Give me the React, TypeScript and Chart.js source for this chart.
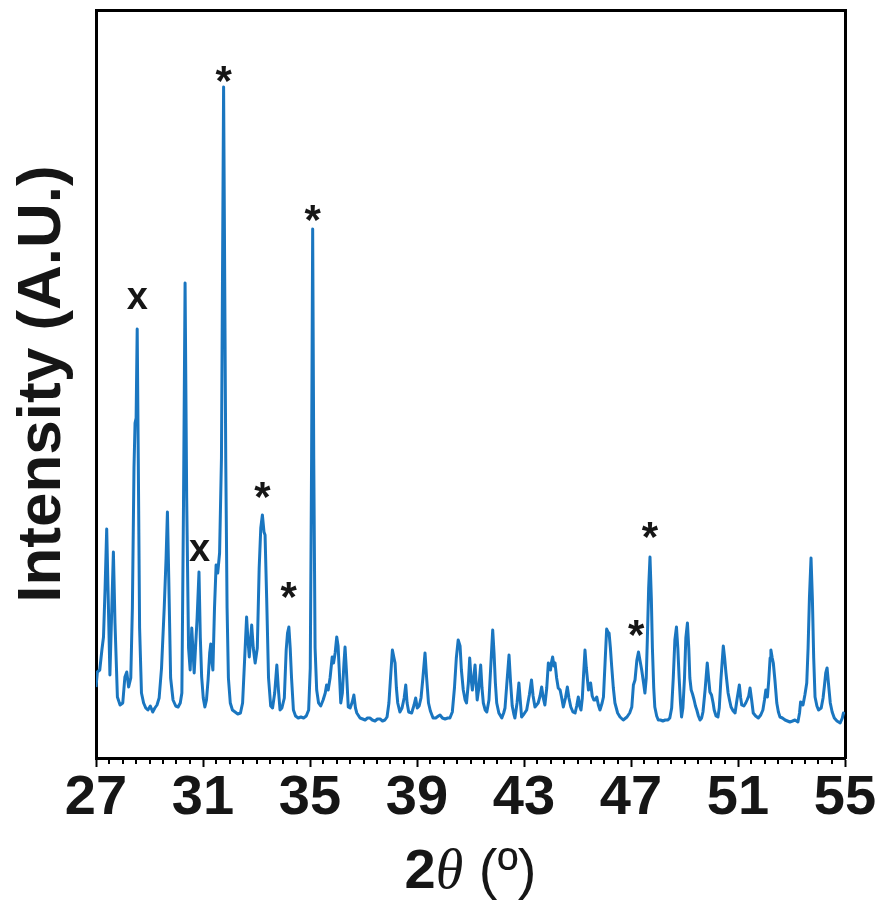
import React, { useEffect, useRef } from 'react';
import { Chart, registerables } from 'chart.js';

Chart.register(...registerables);

const twoTheta = [
  27.00, 27.05, 27.14, 27.22, 27.28, 27.34, 27.40, 27.45, 27.52, 27.58, 27.65, 27.71, 27.80, 27.90, 28.00, 28.08,
  28.15, 28.22, 28.30, 28.36, 28.42, 28.46, 28.50, 28.54, 28.58, 28.63, 28.70, 28.78, 28.86, 28.94, 29.03, 29.12,
  29.20, 29.28, 29.36, 29.45, 29.55, 29.62, 29.67, 29.72, 29.79, 29.88, 29.98, 30.07, 30.15, 30.21, 30.27, 30.33,
  30.39, 30.46, 30.52, 30.58, 30.62, 30.67, 30.72, 30.78, 30.85, 30.90, 30.95, 31.01, 31.07, 31.13, 31.19, 31.25,
  31.29, 31.34, 31.37, 31.43, 31.49, 31.55, 31.62, 31.69, 31.77, 31.85, 31.90, 31.95, 32.02, 32.10, 32.20, 32.30,
  32.40, 32.48, 32.55, 32.63, 32.68, 32.73, 32.82, 32.88, 32.95, 33.03, 33.10, 33.16, 33.22, 33.28, 33.32, 33.38,
  33.45, 33.53, 33.60, 33.68, 33.76, 33.82, 33.88, 33.95, 34.04, 34.11, 34.16, 34.21, 34.26, 34.31, 34.38, 34.46,
  34.56, 34.66, 34.76, 34.86, 34.95, 35.01, 35.06, 35.10, 35.14, 35.19, 35.25, 35.32, 35.40, 35.49, 35.57, 35.62,
  35.68, 35.75, 35.83, 35.88, 35.94, 36.00, 36.05, 36.09, 36.15, 36.21, 36.27, 36.31, 36.36, 36.43, 36.50, 36.58,
  36.64, 36.70, 36.75, 36.87, 36.97, 37.06, 37.15, 37.24, 37.33, 37.43, 37.52, 37.62, 37.71, 37.80, 37.88, 37.95,
  38.01, 38.08, 38.14, 38.18, 38.23, 38.28, 38.36, 38.44, 38.52, 38.58, 38.63, 38.69, 38.80, 38.89, 38.95, 39.01,
  39.08, 39.15, 39.22, 39.30, 39.36, 39.43, 39.50, 39.60, 39.70, 39.80, 39.86, 39.95, 40.05, 40.15, 40.23, 40.32,
  40.40, 40.47, 40.54, 40.61, 40.66, 40.73, 40.80, 40.85, 40.92, 40.97, 41.02, 41.07, 41.12, 41.17, 41.21, 41.25,
  41.31, 41.38, 41.43, 41.48, 41.55, 41.61, 41.69, 41.77, 41.83, 41.88, 41.93, 41.98, 42.06, 42.17, 42.24, 42.29,
  42.36, 42.44, 42.50, 42.56, 42.62, 42.66, 42.74, 42.81, 42.86, 42.91, 43.00, 43.10, 43.20, 43.28, 43.34, 43.41,
  43.53, 43.60, 43.66, 43.72, 43.78, 43.85, 43.91, 43.96, 43.99, 44.03, 44.07, 44.12, 44.16, 44.22, 44.28, 44.35,
  44.41, 44.47, 44.55, 44.62, 44.68, 44.75, 44.83, 44.91, 44.97, 45.03, 45.08, 45.13, 45.18, 45.23, 45.28, 45.33,
  45.41, 45.49, 45.55, 45.61, 45.66, 45.72, 45.78, 45.84, 45.92, 45.97, 46.03, 46.09, 46.14, 46.18, 46.23, 46.28,
  46.34, 46.40, 46.50, 46.59, 46.71, 46.85, 46.95, 47.03, 47.09, 47.15, 47.22, 47.28, 47.32, 47.40, 47.47, 47.52,
  47.57, 47.61, 47.66, 47.71, 47.76, 47.80, 47.85, 47.89, 47.96, 48.02, 48.10, 48.19, 48.28, 48.38, 48.45, 48.52,
  48.58, 48.64, 48.70, 48.75, 48.80, 48.85, 48.89, 48.94, 49.00, 49.05, 49.11, 49.16, 49.20, 49.25, 49.30, 49.36,
  49.41, 49.46, 49.52, 49.58, 49.64, 49.69, 49.77, 49.85, 49.90, 49.95, 50.01, 50.07, 50.11, 50.18, 50.25, 50.30,
  50.36, 50.45, 50.50, 50.55, 50.63, 50.69, 50.74, 50.82, 50.89, 50.96, 51.05, 51.10, 51.14, 51.22, 51.29, 51.34,
  51.40, 51.45, 51.51, 51.57, 51.66, 51.76, 51.85, 51.93, 51.99, 52.04, 52.10, 52.15, 52.20, 52.23, 52.28, 52.32,
  52.38, 52.45, 52.51, 52.57, 52.66, 52.76, 52.85, 52.94, 53.04, 53.13, 53.24, 53.30, 53.34, 53.39, 53.43, 53.50,
  53.57, 53.62, 53.67, 53.73, 53.78, 53.83, 53.88, 53.95, 54.01, 54.11, 54.18, 54.23, 54.28, 54.33, 54.38, 54.45,
  54.52, 54.60, 54.70, 54.82, 54.90, 54.94, 55.00,
];

const intensity = [
  71, 86, 88, 108, 121, 170, 229, 168, 83, 140, 206, 135, 61, 53, 55, 81,
  86, 71, 80, 150, 290, 335, 340, 429, 300, 130, 65, 55, 50, 48, 52, 46,
  50, 53, 60, 90, 150, 200, 246, 180, 80, 58, 52, 51, 55, 65, 250, 475,
  260, 110, 88, 130, 110, 85, 110, 140, 186, 120, 81, 60, 51, 58, 78, 105,
  114, 95, 88, 150, 193, 185, 205, 300, 671, 300, 150, 80, 55, 48, 46, 44,
  45, 55, 95, 141, 118, 101, 133, 110, 95, 110, 190, 230, 243, 226, 223, 160,
  80, 52, 50, 65, 93, 68, 48, 50, 60, 108, 125, 131, 110, 80, 48, 42,
  40, 41, 40, 42, 48, 90, 300, 529, 300, 110, 68, 55, 52, 58, 65, 73,
  68, 80, 101, 95, 105, 121, 112, 90, 55, 65, 95, 111, 88, 51, 50, 56,
  63, 50, 45, 40, 39, 38, 40, 40, 38, 37, 39, 39, 37, 38, 41, 55,
  80, 108, 100, 95, 70, 55, 46, 50, 60, 73, 55, 46, 45, 53, 60, 50,
  52, 60, 80, 105, 80, 55, 47, 40, 40, 42, 43, 40, 39, 40, 40, 46,
  70, 100, 118, 112, 88, 68, 58, 55, 75, 100, 80, 68, 80, 93, 75, 58,
  70, 93, 70, 55, 48, 46, 58, 98, 128, 105, 75, 55, 45, 40, 45, 50,
  75, 103, 75, 52, 44, 40, 55, 75, 58, 41, 44, 48, 63, 78, 62, 51,
  55, 62, 71, 60, 53, 70, 95, 90, 88, 96, 101, 92, 95, 80, 70, 68,
  60, 51, 60, 71, 60, 51, 46, 45, 52, 61, 52, 48, 60, 85, 108, 90,
  68, 75, 62, 58, 58, 61, 53, 48, 55, 61, 95, 129, 126, 125, 110, 91,
  70, 55, 45, 41, 38, 41, 45, 51, 73, 78, 98, 106, 100, 88, 75, 65,
  80, 118, 170, 201, 160, 110, 70, 51, 42, 38, 38, 37, 38, 38, 40, 50,
  80, 118, 131, 110, 80, 55, 41, 50, 80, 120, 135, 110, 80, 68, 64, 58,
  52, 48, 42, 38, 40, 46, 68, 95, 80, 66, 63, 55, 48, 42, 41, 50,
  78, 112, 100, 85, 65, 57, 51, 47, 45, 58, 73, 60, 53, 52, 55, 58,
  62, 70, 58, 45, 42, 40, 43, 48, 58, 68, 61, 78, 100, 108, 100, 95,
  78, 55, 46, 41, 40, 38, 37, 36, 37, 38, 36, 45, 56, 55, 53, 63,
  75, 110, 160, 200, 160, 100, 61, 52, 48, 50, 60, 72, 85, 90, 75, 55,
  46, 40, 37, 35, 40, 45, 44,
];

// Major tick labels on the 2θ axis, and the minor tick interval
const majorTicks = [27, 31, 35, 39, 43, 47, 51, 55];
const minorStep = 0.5;

// Phase markers placed above peaks (2θ, label level in intensity units, symbol)
const markerTheta = [28.54, 30.87, 31.77, 33.22, 34.20, 35.10, 47.19, 47.71];
const markerLevel = [460, 208, 684, 268, 168, 545, 130, 228];
const markerSymbol = ['x', 'x', '*', '*', '*', '*', '*', '*'];

const SANS = '"Liberation Sans", Arial, Helvetica, sans-serif';
const SERIF = '"Liberation Serif", "Times New Roman", serif';
const TEXT = '#161616';
const LINE = '#1a76c0';

const isMajor = (v: number) => majorTicks.some((m) => Math.abs(m - v) < 1e-6);

const annotatePlugin = {
  id: 'annotate',
  afterDraw(chart: any) {
    const { ctx, scales, chartArea } = chart;
    const xs = scales.x;
    const ys = scales.y;
    ctx.save();

    // minor tick marks along the 2θ axis, placed by the x scale
    const lo = majorTicks[0];
    const hi = majorTicks[majorTicks.length - 1];
    ctx.strokeStyle = '#000';
    ctx.lineWidth = 2;
    ctx.beginPath();
    for (let k = 0; lo + k * minorStep <= hi + 1e-9; k++) {
      const v = lo + k * minorStep;
      if (isMajor(v)) continue;
      const px = Math.round(xs.getPixelForValue(v));
      ctx.moveTo(px, chartArea.bottom + 1);
      ctx.lineTo(px, chartArea.bottom + 6);
    }
    ctx.stroke();

    ctx.fillStyle = TEXT;
    ctx.textAlign = 'center';
    ctx.textBaseline = 'alphabetic';
    for (let i = 0; i < markerTheta.length; i++) {
      const sym = markerSymbol[i];
      ctx.font = sym === '*' ? `bold 42px ${SANS}` : `bold 38px ${SANS}`;
      const m = ctx.measureText(sym);
      const px = xs.getPixelForValue(markerTheta[i]);
      const py = ys.getPixelForValue(markerLevel[i]);
      const off = (m.actualBoundingBoxAscent - m.actualBoundingBoxDescent) / 2;
      ctx.fillText(sym, px, py + off);
    }
    // x-axis title: 2θ (º) with mixed fonts
    const parts = [
      { t: '2', f: `bold 56px ${SANS}` },
      { t: 'θ', f: `italic 56px ${SERIF}` },
      { t: ' (º)', f: `56px ${SANS}` },
    ];
    let total = 0;
    const widths: number[] = [];
    for (const p of parts) {
      ctx.font = p.f;
      const w = ctx.measureText(p.t).width;
      widths.push(w);
      total += w;
    }
    let x = (chartArea.left + chartArea.right) / 2 - total / 2;
    const baseY = xs.bottom - 31;
    ctx.textAlign = 'left';
    parts.forEach((p, i) => {
      ctx.font = p.f;
      ctx.fillText(p.t, x, baseY);
      x += widths[i];
    });
    ctx.restore();
  },
};

export default function App() {
  const ref = useRef<HTMLCanvasElement | null>(null);

  useEffect(() => {
    if (!ref.current) return;
    const points = twoTheta.map((t, i) => ({ x: t, y: intensity[i] }));
    const lo = majorTicks[0];
    const hi = majorTicks[majorTicks.length - 1];

    const chart = new Chart(ref.current, {
      type: 'line',
      data: {
        datasets: [
          {
            data: points,
            borderColor: LINE,
            borderWidth: 3,
            pointRadius: 0,
            tension: 0,
            fill: false,
            borderJoinStyle: 'round',
          },
        ],
      },
      options: {
        animation: false,
        responsive: false,
        layout: { padding: { top: 10, right: 37, left: 0, bottom: 0 } },
        plugins: { legend: { display: false }, tooltip: { enabled: false } },
        scales: {
          x: {
            type: 'linear',
            position: 'bottom',
            min: lo,
            max: hi,
            afterBuildTicks: (s: any) => {
              s.ticks = majorTicks.map((v) => ({ value: v }));
            },
            afterFit: (s: any) => {
              s.height = 161;
            },
            ticks: {
              autoSkip: false,
              maxRotation: 0,
              padding: -2,
              color: TEXT,
              font: { family: SANS, size: 56, weight: 'bold' },
              callback: (v: any) => String(v),
            },
            grid: {
              drawOnChartArea: false,
              drawTicks: true,
              tickLength: 9,
              tickColor: '#000',
              tickWidth: 2,
            },
            border: { display: true, color: '#000', width: 3 },
          },
          xTop: {
            type: 'linear',
            axis: 'x',
            position: 'top',
            min: lo,
            max: hi,
            afterFit: (s: any) => {
              s.height = 0;
            },
            ticks: { display: false },
            grid: { display: false },
            border: { display: true, color: '#000', width: 3 },
          },
          y: {
            type: 'linear',
            position: 'left',
            min: 0,
            max: 748,
            afterFit: (s: any) => {
              s.width = 96;
            },
            ticks: { display: false },
            grid: { display: false },
            border: { display: true, color: '#000', width: 3 },
            title: {
              display: true,
              text: 'Intensity (A.U.)',
              color: TEXT,
              font: { family: SANS, size: 62, weight: 'bold' },
              padding: { top: 6, bottom: 0 },
            },
          },
          yRight: {
            type: 'linear',
            axis: 'y',
            position: 'right',
            min: 0,
            max: 748,
            afterFit: (s: any) => {
              s.width = 0;
            },
            ticks: { display: false },
            grid: { display: false },
            border: { display: true, color: '#000', width: 3 },
          },
        },
      } as any,
      plugins: [annotatePlugin],
    });
    return () => chart.destroy();
  }, []);

  return (
    <div style={{ position: 'absolute', left: 0, top: 0, width: 882, height: 919, background: '#fff' }}>
      <canvas ref={ref} width={882} height={919} style={{ display: 'block' }} />
    </div>
  );
}
